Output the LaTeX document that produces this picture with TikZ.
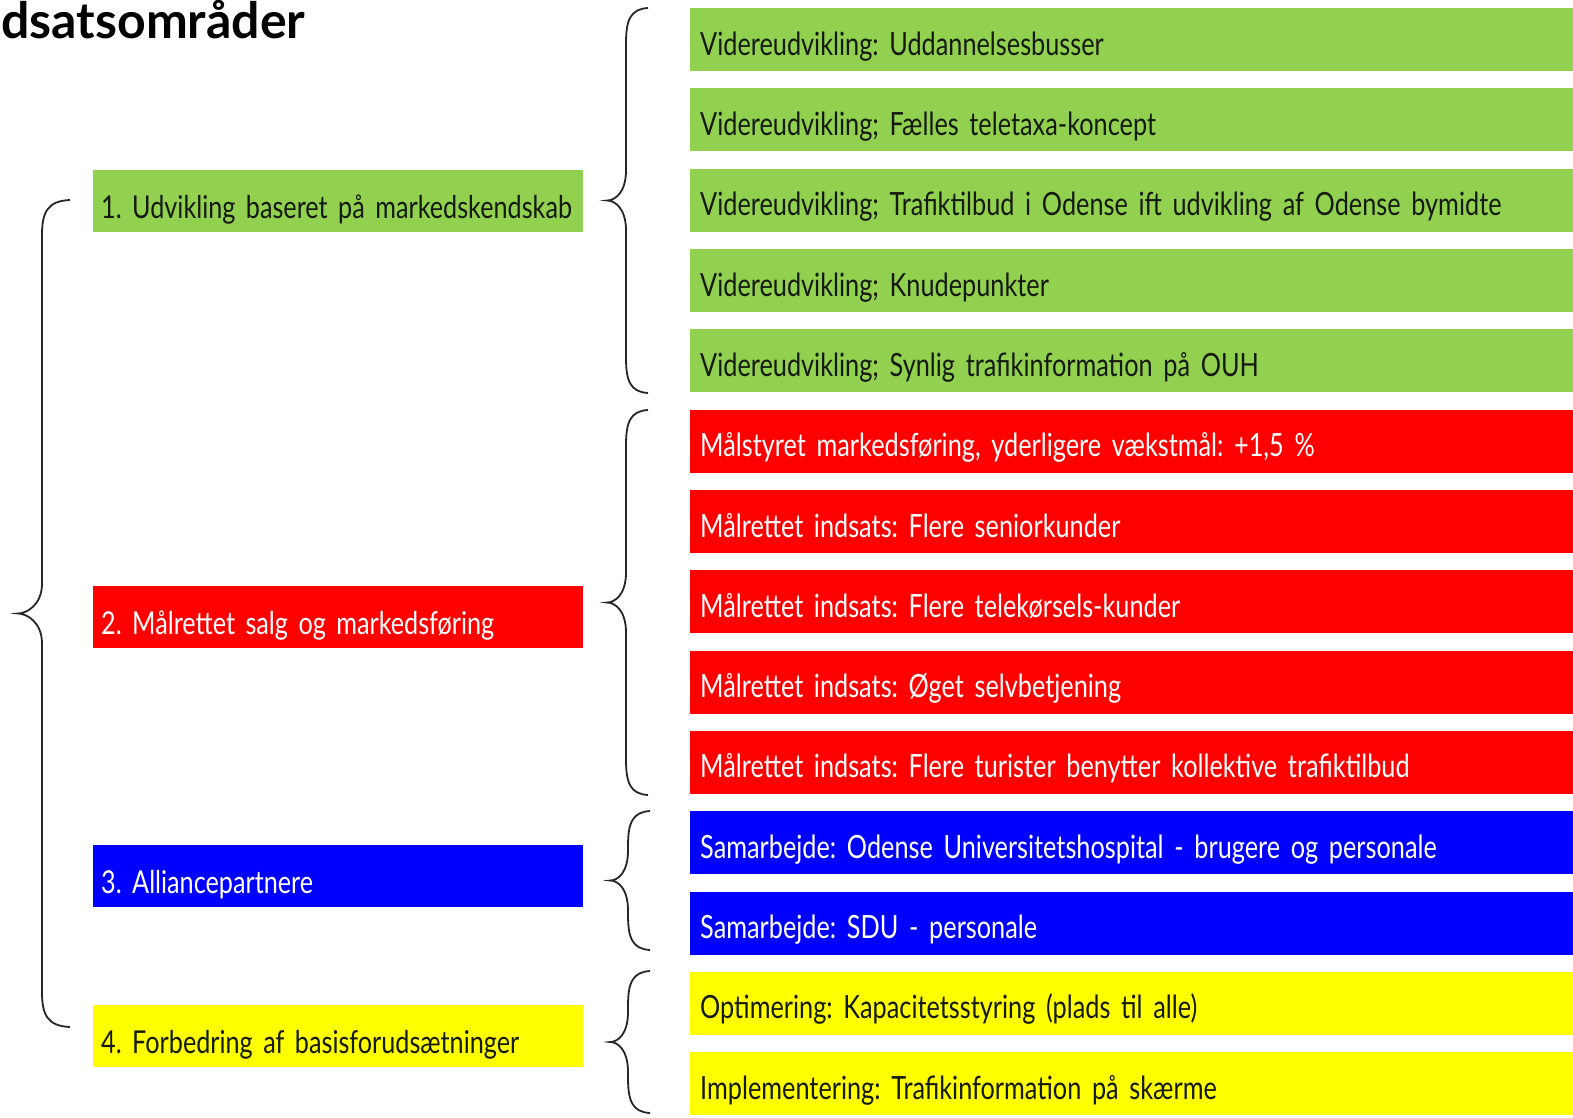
\documentclass[tikz,border=0pt]{standalone}
\usepackage{fontspec}
\setmainfont{Lato}
\newfontfamily\boxfont[FakeStretch=0.8]{Lato}
\newfontfamily\rboxfont[FakeStretch=0.79]{Lato}
\newcommand\rfont{\rboxfont\fontsize{32}{36}\selectfont}
\newcommand\lfont{\boxfont\fontsize{31.5}{36}\selectfont}
\definecolor{cgreen}{HTML}{92D050}
\definecolor{cred}{HTML}{FF0000}
\definecolor{cblue}{HTML}{0000FF}
\definecolor{cyellow}{HTML}{FFFF00}
\definecolor{ctext}{HTML}{141A0E}
\newcommand\mybrace[5]{%
 \draw[bracestyle] (#1,#2) .. controls ({#1-0.8*#4},{#2+1}) and ({#1-#4},{#2+12}) .. ({#1-#4},{#2+35})
  -- ({#1-#4},{(#2+#3)/2-30}) .. controls ({#1-#4},{(#2+#3)/2-8}) and ({#1-#5+8},{(#2+#3)/2}) .. ({#1-#5},{(#2+#3)/2})
  .. controls ({#1-#5+8},{(#2+#3)/2}) and ({#1-#4},{(#2+#3)/2+8}) .. ({#1-#4},{(#2+#3)/2+30})
  -- ({#1-#4},{#3-35}) .. controls ({#1-#4},{#3-12}) and ({#1-0.8*#4},{#3-1}) .. (#1,#3);}
\frenchspacing
\begin{document}
\begin{tikzpicture}[x=1pt,y=-1pt,
  bracestyle/.style={draw=black!85, line width=1.8pt},
  rbox/.style={anchor=north west, minimum width=883pt, minimum height=63pt, inner xsep=10pt, inner ysep=0pt,
     text width=863pt, text height=31pt, text depth=0pt, align=left, font=\rfont},
  lbox/.style={anchor=north west, minimum width=490pt, minimum height=62pt, inner xsep=8pt, inner ysep=0pt,
     text width=474pt, text height=34pt, text depth=0pt, align=left, font=\lfont},
  gbox/.style={fill=cgreen, text=ctext},
  redbox/.style={fill=cred, text=white},
  bbox/.style={fill=cblue, text=white},
  ybox/.style={fill=cyellow, text=ctext}]
\useasboundingbox (0,0) rectangle (1573,1118);
\fill[white] (0,0) rectangle (1573,1118);
\node[anchor=base west, inner sep=0pt, font=\bfseries\fontsize{50}{52}\selectfont] (title) at (1,39) {dsatsområder};
% left boxes
\node[lbox,gbox] (l1) at (93,170) {\mbox{1. Udvikling baseret på markedskendskab}};
\node[lbox,redbox] (l2) at (93,586) {\mbox{2. Målrettet salg og markedsføring}};
\node[lbox,bbox] (l3) at (93,845) {\mbox{3. Alliancepartnere}};
\node[lbox,ybox] (l4) at (93,1005) {\mbox{4. Forbedring af basisforudsætninger}};
% right boxes
\node[rbox,gbox] (r0) at (690,8) {Videreudvikling: Uddannelsesbusser};
\node[rbox,gbox] (r1) at (690,88.3) {Videreudvikling; Fælles teletaxa-koncept};
\node[rbox,gbox] (r2) at (690,168.6) {Videreudvikling; Trafiktilbud i Odense ift udvikling af Odense bymidte};
\node[rbox,gbox] (r3) at (690,248.9) {Videreudvikling; Knudepunkter};
\node[rbox,gbox] (r4) at (690,329.2) {Videreudvikling; Synlig trafikinformation på OUH};
\node[rbox,redbox] (r5) at (690,409.5) {Målstyret markedsføring, yderligere vækstmål: +1,5 \%};
\node[rbox,redbox] (r6) at (690,489.8) {Målrettet indsats: Flere seniorkunder};
\node[rbox,redbox] (r7) at (690,570.1) {Målrettet indsats: Flere telekørsels-kunder};
\node[rbox,redbox] (r8) at (690,650.4) {Målrettet indsats: Øget selvbetjening};
\node[rbox,redbox] (r9) at (690,730.7) {Målrettet indsats: Flere turister benytter kollektive trafiktilbud};
\node[rbox,bbox] (r10) at (690,811) {Samarbejde: Odense Universitetshospital - brugere og personale};
\node[rbox,bbox] (r11) at (690,891.3) {Samarbejde: SDU - personale};
\node[rbox,ybox] (r12) at (690,971.6) {Optimering: Kapacitetsstyring (plads til alle)};
\node[rbox,ybox] (r13) at (690,1051.9) {Implementering: Trafikinformation på skærme};
% braces
\mybrace{70}{200}{1027}{28}{52}
\mybrace{648}{8}{393}{22}{41}
\mybrace{648}{410}{795}{22}{41}
\mybrace{650}{811}{950}{22}{40}
\mybrace{650}{971}{1113}{22}{40}
\end{tikzpicture}
\end{document}
